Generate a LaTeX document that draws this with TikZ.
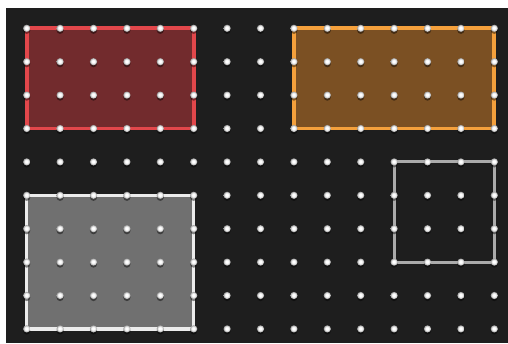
\documentclass[tikz,border=0pt]{standalone}
\usetikzlibrary{shadings}
\definecolor{board}{HTML}{1E1E1E}
\definecolor{redfill}{HTML}{722B2D}
\definecolor{redline}{HTML}{E2474B}
\definecolor{orfill}{HTML}{7B5023}
\definecolor{orline}{HTML}{F4A03C}
\definecolor{grfill}{HTML}{707070}
\definecolor{grline}{HTML}{ECECEC}
\definecolor{sqline}{HTML}{ABABAB}
\pgfdeclareradialshading{pegball}{\pgfpoint{-3bp}{4bp}}{%
  color(0bp)=(white); color(9bp)=(white); color(18bp)=(black!15); color(25bp)=(black!45); color(50bp)=(black!45)}
\tikzset{
  band/.style={line width=3.8pt, line join=round},
  peg/.style={circle, inner sep=0pt, minimum size=7.2pt, shading=pegball, draw=none},
  pegshadow/.style={fill=black, opacity=0.45}
}
\begin{document}
\begin{tikzpicture}[x=1pt,y=-1pt]
\useasboundingbox (0,0) rectangle (508,343);
\fill[white] (0,0) rectangle (508,343);
\fill[board] (6,8) rectangle (508,343);
% peg coordinates
\foreach \i in {0,...,14}{
  \foreach \j in {0,...,9}{
    \coordinate (p-\i-\j) at ({26.7+33.4*\i},{28.3+33.4*\j});
  }
}
% red rectangle
\filldraw[band, fill=redfill, draw=redline] (p-0-0) rectangle (p-5-3);
% orange rectangle
\filldraw[band, fill=orfill, draw=orline] (p-8-0) rectangle (p-14-3);
% gray rectangle
\filldraw[band, line width=3.4pt, fill=grfill, draw=grline] (p-0-5) rectangle (p-5-9);
% outline square
\draw[band, line width=3pt, draw=sqline] (p-11-4) rectangle (p-14-7);
% pegs
\foreach \i in {0,...,14}{
  \foreach \j in {0,...,9}{
    \fill[pegshadow] ([yshift=-2pt]p-\i-\j) circle (3.6pt);
    \node[peg] (n-\i-\j) at (p-\i-\j) {};
  }
}
\end{tikzpicture}
\end{document}
